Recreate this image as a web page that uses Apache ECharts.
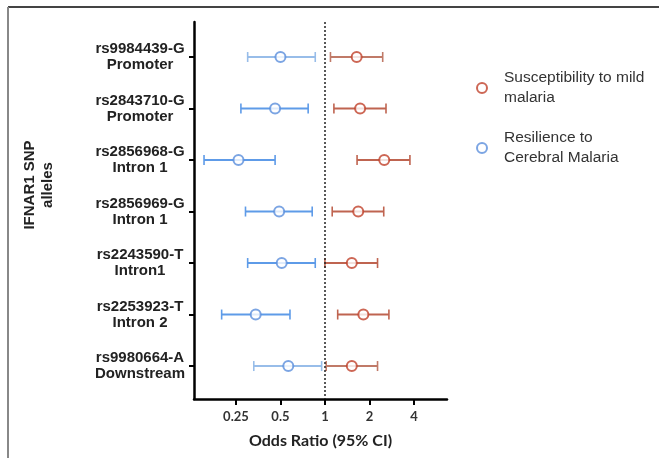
<!DOCTYPE html>
<html>
<head>
<meta charset="utf-8">
<script src="https://cdn.jsdelivr.net/npm/echarts@6/dist/echarts.min.js"></script>
<style>
  html, body { margin: 0; padding: 0; background: #fff; }
  #chart { width: 659px; height: 458px; }
</style>
</head>
<body>
<div id="chart"></div>
<script>
// SNP rows, top to bottom
const snpIds = ['rs9984439-G', 'rs2843710-G', 'rs2856968-G', 'rs2856969-G', 'rs2243590-T', 'rs2253923-T', 'rs9980664-A']
const snpRegions = ['Promoter', 'Promoter', 'Intron 1', 'Intron 1', 'Intron1', 'Intron 2', 'Downstream']

// susceptibility to mild malaria: OR and 95% CI
const mildOR = [1.64, 1.73, 2.52, 1.68, 1.52, 1.82, 1.52]
const mildLow = [1.09, 1.15, 1.65, 1.12, 1.00, 1.22, 1.02]
const mildHigh = [2.46, 2.59, 3.76, 2.50, 2.27, 2.71, 2.27]

// resilience to cerebral malaria: OR and 95% CI
const cmOR = [0.50, 0.46, 0.26, 0.49, 0.51, 0.34, 0.565]
const cmLow = [0.30, 0.27, 0.152, 0.29, 0.30, 0.20, 0.33]
const cmHigh = [0.86, 0.77, 0.46, 0.82, 0.86, 0.58, 0.95]

const xTicks = [0.25, 0.5, 1, 2, 4]
const rowIndex = snpIds.map((d, i) => i)

const MILD = 'Susceptibility to mild malaria'
const CM = 'Resilience to Cerebral Malaria'
const legendText = {}
legendText[MILD] = 'Susceptibility to mild\nmalaria'
legendText[CM] = 'Resilience to\nCerebral Malaria'

const font = '"Liberation Sans", Arial, sans-serif'
const fadedRows = [0, 6]

function errorBar(color, fadedColor) {
  return function(params, api) {
    const row = api.value(0)
    const lo = api.coord([api.value(1), row])
    const hi = api.coord([api.value(2), row])
    const c = fadedRows.indexOf(params.dataIndex) > -1 ? fadedColor : color
    const cap = 5
    return {
      type: 'group',
      children: [
        { type: 'line', shape: { x1: lo[0], y1: lo[1], x2: hi[0], y2: hi[1] }, style: { stroke: c, lineWidth: 2 } },
        { type: 'line', shape: { x1: lo[0], y1: lo[1] - cap, x2: lo[0], y2: lo[1] + cap }, style: { stroke: c, lineWidth: 1.6 } },
        { type: 'line', shape: { x1: hi[0], y1: hi[1] - cap, x2: hi[0], y2: hi[1] + cap }, style: { stroke: c, lineWidth: 1.6 } }
      ]
    }
  }
}

const chart = echarts.init(document.getElementById('chart'))

chart.setOption({
  animation: false,
  backgroundColor: '#fff',
  grid: {
    left: 194,
    right: 212,
    top: 22,
    bottom: 59
  },
  legend: {
    data: [MILD, CM],
    orient: 'vertical',
    left: 476,
    top: 58,
    padding: 0,
    itemGap: 0,
    itemWidth: 10,
    itemHeight: 10,
    selectedMode: false,
    formatter: name => legendText[name],
    textStyle: {
      fontFamily: font,
      fontSize: 15.5,
      lineHeight: 20,
      color: '#333',
      padding: [20, 0, 0, 12]
    }
  },
  xAxis: {
    type: 'log',
    logBase: 2,
    min: 0.13,
    max: 6.7,
    name: 'Odds Ratio (95% CI)',
    nameLocation: 'middle',
    nameGap: 34,
    nameTextStyle: {
      fontFamily: 'Lato, "Open Sans", sans-serif',
      fontWeight: 'bold',
      fontSize: 16,
      color: '#222'
    },
    splitLine: { show: false },
    axisLine: { onZero: false, lineStyle: { color: '#000', width: 2.5 } },
    axisTick: {
      customValues: xTicks,
      length: 6,
      lineStyle: { color: '#000', width: 2 }
    },
    axisLabel: {
      customValues: xTicks,
      margin: 11,
      fontFamily: 'Lato, "Open Sans", sans-serif',
      fontWeight: 'bold',
      fontSize: 13,
      color: '#333',
      formatter: v => String(v)
    }
  },
  yAxis: {
    type: 'value',
    inverse: true,
    min: -0.68,
    max: 6.64,
    splitLine: { show: false },
    axisLine: { show: true, onZero: false, lineStyle: { color: '#000', width: 2.5 } },
    axisTick: {
      customValues: rowIndex,
      length: 5,
      lineStyle: { color: '#000', width: 2 }
    },
    axisLabel: {
      customValues: rowIndex,
      margin: 54,
      align: 'center',
      fontFamily: font,
      fontWeight: 'bold',
      fontSize: 15,
      lineHeight: 16,
      color: '#222',
      formatter: v => snpIds[v] + '\n' + snpRegions[v]
    }
  },
  graphic: [
    { type: 'line', shape: { x1: 8, y1: 7, x2: 659, y2: 7 }, style: { stroke: '#444', lineWidth: 2 } },
    { type: 'line', shape: { x1: 8, y1: 7, x2: 8, y2: 458 }, style: { stroke: '#888', lineWidth: 2 } },
    {
      type: 'text',
      x: 39,
      y: 185,
      rotation: Math.PI / 2,
      style: {
        text: 'IFNAR1 SNP\nalleles',
        fontFamily: font,
        fontWeight: 'bold',
        fontSize: 15,
        lineHeight: 18,
        fill: '#222',
        align: 'center',
        verticalAlign: 'middle'
      }
    }
  ],
  series: [
    {
      name: 'mildCI',
      type: 'custom',
      renderItem: errorBar('#bf6450', '#c07a68'),
      encode: { x: [1, 2], y: 0 },
      data: rowIndex.map(i => [i, mildLow[i], mildHigh[i]]),
      z: 2
    },
    {
      name: 'cmCI',
      type: 'custom',
      renderItem: errorBar('#5e9be8', '#98bde9'),
      encode: { x: [1, 2], y: 0 },
      data: rowIndex.map(i => [i, cmLow[i], cmHigh[i]]),
      z: 2
    },
    {
      name: MILD,
      type: 'scatter',
      symbol: 'emptyCircle',
      symbolSize: 10,
      itemStyle: { color: '#c0412b', borderWidth: 2.2 },
      data: rowIndex.map(i => [mildOR[i], i]),
      z: 3,
      markLine: {
        silent: true,
        symbol: ['none', 'none'],
        label: { show: false },
        lineStyle: { type: [2, 2], color: '#222', width: 1.5 },
        data: [{ xAxis: 1 }]
      }
    },
    {
      name: CM,
      type: 'scatter',
      symbol: 'emptyCircle',
      symbolSize: 10,
      itemStyle: { color: '#5b8fdc', borderWidth: 2.2 },
      data: rowIndex.map(i => [cmOR[i], i]),
      z: 3
    }
  ]
})
</script>
</body>
</html>
